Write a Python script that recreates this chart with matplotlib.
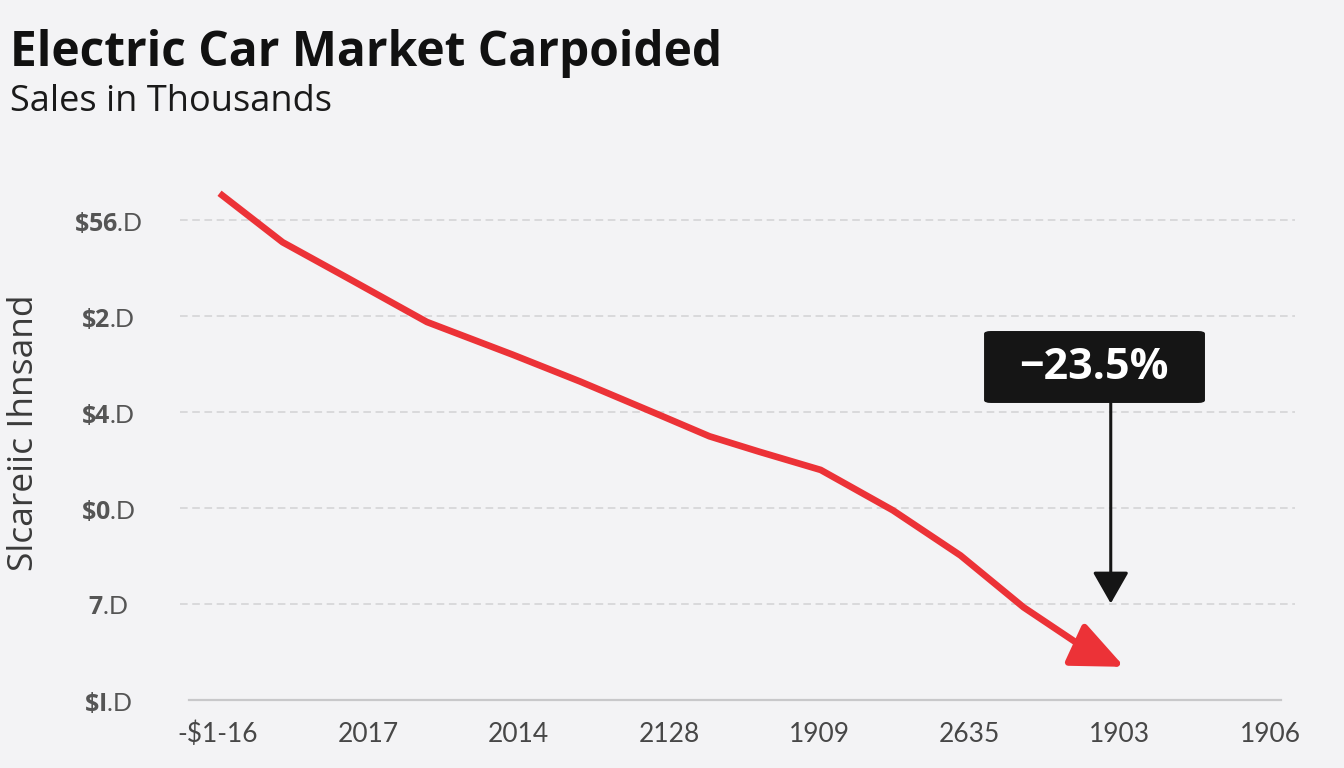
import numpy as np
import matplotlib
matplotlib.use('Agg')
import matplotlib.pyplot as plt
from matplotlib.patches import FancyBboxPatch

# data (x in category-index units)
x_pos = [0.01, 0.43, 0.86, 1.39, 1.96, 2.41, 2.94, 3.27, 3.60, 4.01, 4.49, 4.94, 5.36, 5.78, 6.03]
sales = [5.28, 4.77, 4.40, 3.94, 3.60, 3.32, 2.97, 2.75, 2.59, 2.40, 1.98, 1.51, 0.97, 0.53, 0.35]
x_labels = ['-$1-16', '2017', '2014', '2128', '1909', '2635', '1903', '1906']
y_ticks = [0, 1, 2, 3, 4, 5]
y_bold = ['$I', '7', '$0', '$4', '$2', '$56']
callout_text = '\u221223.5%'

BG = '#f3f3f5'
RED = '#ec3237'

plt.rcParams['font.family'] = ['Lato', 'DejaVu Sans']
plt.rcParams['mathtext.fontset'] = 'custom'
plt.rcParams['mathtext.rm'] = 'Open Sans'
plt.rcParams['mathtext.bf'] = 'Open Sans:bold'

fig = plt.figure(figsize=(13.44, 7.68), dpi=100, facecolor=BG)
ax = fig.add_axes([180 / 1344, 1 - 705 / 768, 1115 / 1344, 525 / 768])
ax.set_facecolor(BG)

ax.set_xlim(-0.253, 7.166)
ax.set_ylim(-0.047, 5.418)

# grid lines + base line
for t in y_ticks[1:]:
    ax.axhline(t, color='#d2d2d4', lw=1.1, ls=(0, (5, 3)), zorder=1)
ax.axhline(0, xmin=0.008, xmax=0.987, color='#c8c8ca', lw=1.6, zorder=1)

# sales line with arrow head
ax.plot(x_pos[:-1], sales[:-1], color=RED, lw=4.8, solid_capstyle='butt',
        solid_joinstyle='round', zorder=3)
ax.annotate('', xy=(x_pos[-1], sales[-1]), xytext=(x_pos[-2], sales[-2]),
            arrowprops=dict(arrowstyle='-|>,head_length=1.6,head_width=0.7',
                            mutation_scale=20, color=RED, lw=4.8,
                            shrinkA=0, shrinkB=0), zorder=4)

# callout box and arrow
box = FancyBboxPatch((5.097, 3.097), 1.47, 0.749,
                     boxstyle='round,pad=0,rounding_size=0.045',
                     mutation_aspect=96.06 / 150.3,
                     facecolor='#151515', edgecolor='none', zorder=5)
ax.add_patch(box)
ax.text(5.83, 3.47, callout_text, color='white', fontsize=31, fontweight='bold',
        family='Open Sans', ha='center', va='center', zorder=6)
ax.annotate('', xy=(5.94, 1.01), xytext=(5.94, 3.097),
            arrowprops=dict(arrowstyle='-|>,head_length=1.4,head_width=0.8',
                            mutation_scale=14, color='#151515', lw=2.2,
                            shrinkA=0, shrinkB=0), zorder=4)

# ticks
ax.set_xticks(range(len(x_labels)))
ax.set_xticklabels(x_labels, fontsize=19, color='#474747')
ax.set_yticks(y_ticks)
ax.set_yticklabels([r'$\mathbf{%s}$.D' % b.replace('$', r'\$') for b in y_bold],
                   fontsize=18, color='#555555', ha='center')
ax.tick_params(axis='x', length=0, pad=12)
ax.tick_params(axis='y', length=0, pad=52)

for s in ax.spines.values():
    s.set_visible(False)

fig.text(24 / 1344, 1 - 433 / 768, 'Slcareiic Ihnsand', fontsize=25.5, color='#3a3a3a',
         family='Open Sans', rotation=90, ha='center', va='center')

fig.text(10 / 1344, 1 - 66 / 768, 'Electric Car Market Carpoided', fontsize=34.5,
         fontweight='bold', color='#111111', va='baseline', family='Open Sans')
fig.text(10 / 1344, 1 - 111 / 768, 'Sales in Thousands', fontsize=26,
         color='#1a1a1a', va='baseline', family='Open Sans')

fig.savefig('out.png', dpi=100, facecolor=BG)
